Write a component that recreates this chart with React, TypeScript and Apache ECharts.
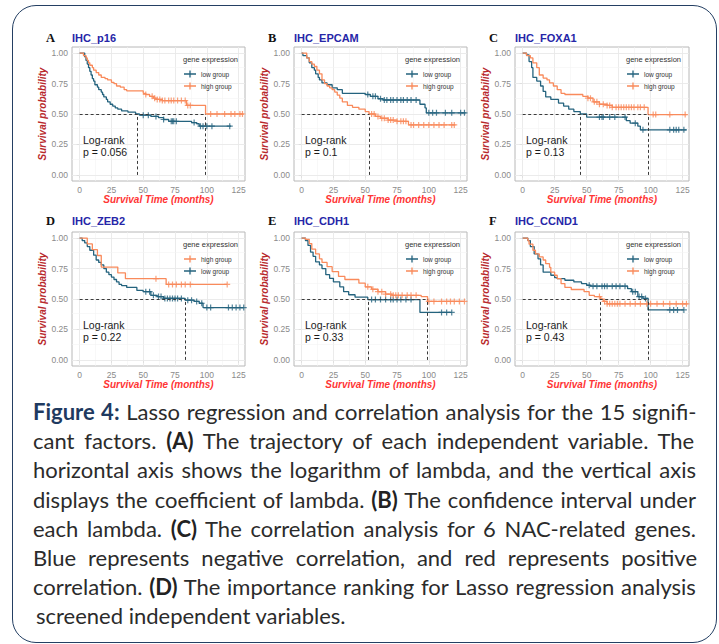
import React, { useEffect, useRef } from "react";
import * as echarts from "echarts";

// ---------------- data ----------------
const xTicks = [0, 25, 50, 75, 100, 125];
const xMinorGrid = [12.5, 37.5, 62.5, 87.5, 112.5];
const yTicks = [0, 0.25, 0.5, 0.75, 1];
const yMinorGrid = [0.125, 0.375, 0.625, 0.875];

const panelLetters = ["A", "B", "C", "D", "E", "F"];
const geneNames = ["IHC_p16", "IHC_EPCAM", "IHC_FOXA1", "IHC_ZEB2", "IHC_CDH1", "IHC_CCND1"];
const pValues = ["0.056", "0.1", "0.13", "0.22", "0.33", "0.43"];
const legendOrders = [
  ["low group", "high group"],
  ["low group", "high group"],
  ["low group", "high group"],
  ["high group", "low group"],
  ["low group", "high group"],
  ["low group", "high group"],
];

// Panel A  (IHC_p16)
const A_lowTimes = [0, 4, 5, 6, 7, 8, 9, 10, 11, 12, 14, 15, 17, 18, 19, 21, 22, 24, 26, 28, 30, 33, 38, 44, 47, 56, 62, 66, 70, 88, 92, 94, 119];
const A_lowSurv = [1, 0.97, 0.94, 0.91, 0.88, 0.85, 0.82, 0.79, 0.77, 0.74, 0.72, 0.7, 0.68, 0.66, 0.64, 0.62, 0.6, 0.58, 0.565, 0.55, 0.54, 0.525, 0.515, 0.5, 0.49, 0.48, 0.47, 0.455, 0.44, 0.43, 0.42, 0.4, 0.4];
const A_lowCensor = [50, 54, 60, 66, 72, 73, 74, 76, 90, 95, 97, 100, 104, 118];
const A_highTimes = [0, 3, 5, 6, 7, 8, 10, 11, 13, 15, 17, 20, 22, 25, 27, 29, 32, 35, 37, 50, 52, 55, 58, 60, 65, 84, 99, 129];
const A_highSurv = [1, 0.98, 0.96, 0.94, 0.92, 0.9, 0.88, 0.86, 0.84, 0.82, 0.8, 0.79, 0.78, 0.76, 0.75, 0.73, 0.72, 0.7, 0.69, 0.67, 0.66, 0.645, 0.63, 0.62, 0.61, 0.57, 0.5, 0.5];
const A_highCensor = [52, 57, 59, 61, 63, 65, 67, 70, 72, 74, 77, 80, 83, 85, 87, 103, 108, 114, 119, 122, 126, 128];
const A_medians = [45, 99];

// Panel B  (IHC_EPCAM)
const B_lowTimes = [0, 1, 4, 6, 8, 10, 11, 13, 14, 16, 20, 24, 28, 32, 50, 54, 60, 64, 93, 97, 98, 129];
const B_lowSurv = [1, 0.98, 0.96, 0.92, 0.88, 0.86, 0.83, 0.8, 0.78, 0.755, 0.74, 0.715, 0.7, 0.67, 0.66, 0.645, 0.625, 0.615, 0.58, 0.55, 0.51, 0.51];
const B_lowCensor = [52, 56, 58, 62, 65, 67, 70, 72, 75, 78, 80, 83, 86, 90, 100, 103, 106, 113, 118, 125, 128];
const B_highTimes = [0, 4, 6, 8, 10, 12, 14, 16, 18, 20, 22, 24, 26, 28, 30, 32, 36, 40, 45, 50, 53, 58, 62, 68, 75, 84, 121];
const B_highSurv = [1, 0.96, 0.93, 0.91, 0.89, 0.86, 0.83, 0.78, 0.75, 0.73, 0.715, 0.7, 0.68, 0.655, 0.63, 0.6, 0.57, 0.555, 0.54, 0.52, 0.5, 0.48, 0.465, 0.45, 0.44, 0.41, 0.41];
const B_highCensor = [55, 57, 60, 63, 65, 68, 70, 72, 75, 78, 80, 82, 86, 88, 92, 96, 100, 104, 108, 112, 118, 120];
const B_medians = [53];

// Panel C  (IHC_FOXA1)
const C_lowTimes = [0, 3, 5, 7, 8, 11, 14, 16, 18, 22, 28, 32, 36, 40, 45, 50, 81, 84, 90, 92, 128];
const C_lowSurv = [1, 0.985, 0.93, 0.88, 0.8, 0.77, 0.73, 0.685, 0.64, 0.62, 0.59, 0.565, 0.54, 0.52, 0.5, 0.475, 0.445, 0.425, 0.4, 0.37, 0.37];
const C_lowCensor = [60, 62, 63, 68, 72, 80, 88, 94, 115, 118, 120, 122, 126];
const C_highTimes = [0, 3, 6, 8, 11, 13, 16, 19, 21, 24, 27, 30, 33, 47, 51, 55, 60, 66, 70, 98, 128];
const C_highSurv = [1, 0.98, 0.96, 0.92, 0.88, 0.82, 0.795, 0.78, 0.755, 0.73, 0.7, 0.67, 0.66, 0.645, 0.63, 0.6, 0.58, 0.57, 0.555, 0.495, 0.495];
const C_highCensor = [51, 53, 56, 58, 60, 63, 66, 68, 70, 73, 75, 77, 79, 81, 83, 85, 87, 90, 92, 95, 102, 104, 115, 127];
const C_medians = [45, 98];

// Panel D  (IHC_ZEB2)
const D_lowTimes = [0, 2, 4, 6, 8, 11, 13, 15, 17, 19, 21, 23, 25, 27, 29, 31, 33, 37, 45, 50, 56, 61, 66, 83, 90, 94, 97, 129];
const D_lowSurv = [1, 0.98, 0.96, 0.93, 0.9, 0.86, 0.82, 0.8, 0.78, 0.75, 0.72, 0.7, 0.68, 0.66, 0.64, 0.62, 0.61, 0.595, 0.57, 0.56, 0.53, 0.52, 0.505, 0.49, 0.48, 0.465, 0.43, 0.43];
const D_lowCensor = [52, 55, 58, 62, 64, 67, 69, 71, 73, 75, 77, 80, 85, 88, 92, 96, 100, 103, 117, 120, 123, 126, 129];
const D_highTimes = [0, 6, 10, 14, 17, 30, 36, 68, 116];
const D_highSurv = [1, 0.952, 0.905, 0.857, 0.762, 0.714, 0.667, 0.62, 0.62];
const D_highCensor = [60, 70, 73, 76, 80, 83, 87, 116];
const D_medians = [83];

// Panel E  (IHC_CDH1)
const E_lowTimes = [0, 3, 5, 7, 9, 11, 14, 16, 19, 22, 25, 30, 33, 37, 42, 52, 93, 118];
const E_lowSurv = [1, 0.98, 0.94, 0.885, 0.85, 0.805, 0.78, 0.75, 0.7, 0.67, 0.64, 0.6, 0.56, 0.535, 0.515, 0.495, 0.39, 0.39];
const E_lowCensor = [55, 58, 62, 66, 70, 72, 75, 78, 82, 86, 110, 114, 118];
const E_highTimes = [0, 3, 6, 8, 11, 14, 16, 20, 24, 29, 34, 45, 50, 55, 60, 66, 71, 94, 99, 128];
const E_highSurv = [1, 0.99, 0.955, 0.91, 0.87, 0.83, 0.8, 0.765, 0.725, 0.685, 0.66, 0.63, 0.6, 0.58, 0.56, 0.54, 0.53, 0.52, 0.48, 0.48];
const E_highCensor = [52, 56, 60, 63, 66, 70, 72, 74, 76, 79, 83, 86, 90, 100, 104, 110, 114, 117, 120, 124, 128];
const E_medians = [52, 99];

// Panel F  (IHC_CCND1)
const F_lowTimes = [0, 4, 6, 9, 12, 14, 16, 22, 25, 27, 33, 40, 46, 50, 53, 82, 85, 90, 94, 98, 126];
const F_lowSurv = [1, 0.98, 0.93, 0.87, 0.83, 0.78, 0.72, 0.695, 0.675, 0.667, 0.654, 0.64, 0.627, 0.613, 0.605, 0.585, 0.56, 0.52, 0.505, 0.41, 0.41];
const F_lowCensor = [52, 55, 58, 62, 64, 66, 70, 73, 76, 80, 86, 88, 91, 93, 96, 115, 118, 121, 126];
const F_highTimes = [0, 4, 5, 8, 10, 13, 16, 18, 21, 22, 25, 27, 30, 33, 38, 48, 52, 56, 61, 63, 66, 129];
const F_highSurv = [1, 0.98, 0.95, 0.9, 0.87, 0.845, 0.82, 0.79, 0.76, 0.72, 0.695, 0.667, 0.627, 0.595, 0.578, 0.56, 0.53, 0.52, 0.5, 0.48, 0.46, 0.46];
const F_highCensor = [60, 64, 66, 68, 70, 72, 74, 76, 80, 84, 88, 92, 97, 100, 105, 110, 115, 120, 125, 128];
const F_medians = [61, 98];

// caption
type Seg = { t: string; b?: "fig" | "bold" };
const captionLines: Seg[][] = [
  [{ t: "Figure 4:", b: "fig" }, { t: " Lasso regression and correlation analysis for the 15 signifi-" }],
  [{ t: "cant factors. " }, { t: "(A)", b: "bold" }, { t: " The trajectory of each independent variable. The" }],
  [{ t: "horizontal axis shows the logarithm of lambda, and the vertical axis" }],
  [{ t: "displays the coefficient of lambda. " }, { t: "(B)", b: "bold" }, { t: " The confidence interval under" }],
  [{ t: "each lambda. " }, { t: "(C)", b: "bold" }, { t: " The correlation analysis for 6 NAC-related genes." }],
  [{ t: "Blue represents negative correlation, and red represents positive" }],
  [{ t: "correlation. " }, { t: "(D)", b: "bold" }, { t: " The importance ranking for Lasso regression analysis" }],
  [{ t: "screened independent variables." }],
];

// ---------------- styling / layout ----------------
const TEAL = "#24637e";
const ORANGE = "#f98a5b";
const FONT = "'Liberation Sans', Arial, sans-serif";
const colLeft = [72, 294, 515];
const colWidth = [173, 173, 174];
const rowTop = [47, 232];
const rowHeight = 134;
const PLUS = "path://M2.4,0H3.6V2.4H6V3.6H3.6V6H2.4V3.6H0V2.4H2.4Z";
const LEGEND_ICON = "path://M0,2.85H5.35V0H6.65V2.85H12V4.15H6.65V7H5.35V4.15H0Z";

const panels = [
  { low: [A_lowTimes, A_lowSurv, A_lowCensor], high: [A_highTimes, A_highSurv, A_highCensor], medians: A_medians },
  { low: [B_lowTimes, B_lowSurv, B_lowCensor], high: [B_highTimes, B_highSurv, B_highCensor], medians: B_medians },
  { low: [C_lowTimes, C_lowSurv, C_lowCensor], high: [C_highTimes, C_highSurv, C_highCensor], medians: C_medians },
  { low: [D_lowTimes, D_lowSurv, D_lowCensor], high: [D_highTimes, D_highSurv, D_highCensor], medians: D_medians },
  { low: [E_lowTimes, E_lowSurv, E_lowCensor], high: [E_highTimes, E_highSurv, E_highCensor], medians: E_medians },
  { low: [F_lowTimes, F_lowSurv, F_lowCensor], high: [F_highTimes, F_highSurv, F_highCensor], medians: F_medians },
];

function stepAt(times: number[], surv: number[], t: number) {
  let v = surv[0];
  for (let i = 0; i < times.length; i++) if (times[i] <= t) v = surv[i];
  return v;
}

function buildOption() {
  const grid: any[] = [], xAxis: any[] = [], yAxis: any[] = [], series: any[] = [], legend: any[] = [], graphic: any[] = [];
  panels.forEach((p, i) => {
    const r = Math.floor(i / 3), c = i % 3;
    const left = colLeft[c], top = rowTop[r];
    grid.push({ left, top, width: colWidth[c], height: rowHeight, show: true, borderColor: "#b8b8b8", borderWidth: 1, backgroundColor: "#fff" });
    xAxis.push({
      type: "value", gridIndex: i, min: -6, max: 130,
      axisLine: { show: false }, splitLine: { show: false },
      axisTick: { show: true, customValues: xTicks, length: 3, lineStyle: { color: "#8c8c8c", width: 1 } },
      axisLabel: { customValues: xTicks, fontSize: 8.5, color: "#8a8a8a", margin: 4, fontFamily: FONT },
      name: "Survival Time (months)", nameLocation: "middle", nameGap: 12,
      nameTextStyle: { color: "#ff3535", fontWeight: "bold", fontStyle: "italic", fontSize: 10, fontFamily: FONT },
    });
    yAxis.push({
      type: "value", gridIndex: i, min: -0.05, max: 1.05,
      axisLine: { show: false }, splitLine: { show: false },
      axisTick: { show: true, customValues: yTicks, length: 3, lineStyle: { color: "#8c8c8c", width: 1 } },
      axisLabel: { customValues: yTicks, fontSize: 8.5, color: "#8a8a8a", margin: 4, fontFamily: FONT, formatter: (v: number) => v.toFixed(2) },
      name: "Survival probability", nameLocation: "middle", nameGap: 24,
      nameTextStyle: { color: "#b8282c", fontWeight: "bold", fontStyle: "italic", fontSize: 10, fontFamily: FONT },
    });
    const gridLines = [
      ...xMinorGrid.map((v) => ({ xAxis: v, lineStyle: { color: "#f3f3f3", width: 0.6, type: "solid" } })),
      ...xTicks.map((v) => ({ xAxis: v, lineStyle: { color: "#e9e9e9", width: 0.9, type: "solid" } })),
      ...yMinorGrid.map((v) => ({ yAxis: v, lineStyle: { color: "#f3f3f3", width: 0.6, type: "solid" } })),
      ...yTicks.map((v) => ({ yAxis: v, lineStyle: { color: "#e9e9e9", width: 0.9, type: "solid" } })),
    ];
    const maxMed = Math.max(...p.medians);
    const medLines: any[] = [
      [{ coord: [0, 0.5] }, { coord: [maxMed, 0.5] }],
      ...p.medians.map((m) => [{ coord: [m, 0] }, { coord: [m, 0.5] }]),
    ];
    const groups: [string, any[], string][] = [["low group", p.low, TEAL], ["high group", p.high, ORANGE]];
    groups.forEach(([name, g, color], k) => {
      const [times, surv, cens] = g as number[][];
      series.push({
        type: "line", name, xAxisIndex: i, yAxisIndex: i, step: "end", showSymbol: false, symbol: "none",
        data: times.map((t, j) => [t, surv[j]]), z: 3,
        lineStyle: { color, width: 1.3 }, itemStyle: { color }, silent: true,
        markLine: k === 0
          ? { silent: true, symbol: "none", z: 1, label: { show: false }, data: gridLines }
          : { silent: true, symbol: "none", z: 5, label: { show: false }, lineStyle: { type: [3, 2.5], color: "#3a3a3a", width: 1 }, data: medLines },
      });
      series.push({
        type: "scatter", name, xAxisIndex: i, yAxisIndex: i, symbol: PLUS, symbolSize: 6, z: 4, silent: true,
        itemStyle: { color },
        data: cens.map((t) => [t, stepAt(times, surv, t)]),
      });
    });
    legend.push({
      left: left + 112, top: top + 23.5, orient: "vertical", itemGap: 5, itemWidth: 12, itemHeight: 7, padding: 0,
      selectedMode: false,
      data: legendOrders[i].map((n) => ({ name: n, icon: LEGEND_ICON })),
      textStyle: { fontSize: 6.5, color: "#333", fontFamily: FONT },
    });
    const titleY = r === 0 ? 38 : 221;
    graphic.push(
      { type: "text", z: 20, x: left - 26, y: titleY, style: { text: panelLetters[i], fontSize: 12.5, fontWeight: "bold", fontFamily: "'Liberation Serif', serif", fill: "#111", verticalAlign: "middle" } },
      { type: "text", z: 20, x: left, y: titleY, style: { text: geneNames[i], fontSize: 11, fontWeight: "bold", fontFamily: FONT, fill: "#2626a8", verticalAlign: "middle" } },
      { type: "text", z: 20, x: left + 111, y: top + 12, style: { text: "gene expression", fontSize: 7.5, fontFamily: FONT, fill: "#333", verticalAlign: "middle" } },
      { type: "text", z: 20, x: left + 11, y: top + 93, style: { text: "Log-rank", fontSize: 10.5, fontFamily: FONT, fill: "#1a1a1a", verticalAlign: "middle" } },
      { type: "text", z: 20, x: left + 11, y: top + 105, style: { text: "p = " + pValues[i], fontSize: 10.5, fontFamily: FONT, fill: "#1a1a1a", verticalAlign: "middle" } },
    );
  });
  return { animation: false, grid, xAxis, yAxis, series, legend, graphic };
}

const CAP_FONT = "Lato";
const CAP_SIZE = 22;
const CAP_LEFT = 33;
const CAP_WIDTH = 664;

function lineWordSpacing(segs: Seg[]) {
  const ctx = document.createElement("canvas").getContext("2d");
  if (!ctx) return 0;
  let w = 0, spaces = 0;
  for (const s of segs) {
    ctx.font = `${s.b ? "bold " : ""}${CAP_SIZE}px ${CAP_FONT}`;
    w += ctx.measureText(s.t).width;
    spaces += (s.t.match(/ /g) || []).length;
  }
  return spaces ? (CAP_WIDTH - w) / spaces : 0;
}

export default function App() {
  const ref = useRef<HTMLDivElement>(null);
  useEffect(() => {
    const chart = echarts.init(ref.current!, undefined, { renderer: "svg" });
    chart.setOption(buildOption() as any);
    return () => chart.dispose();
  }, []);
  return (
    <div style={{ position: "fixed", left: 0, top: 0, width: 719, height: 644, background: "#fff", overflow: "hidden" }}>
      <div style={{ position: "absolute", left: 12, top: 5, width: 705, height: 638, border: "1.3px solid #243f63", borderRadius: 24, boxSizing: "border-box" }} />
      <div ref={ref} style={{ position: "absolute", left: 0, top: 0, width: 719, height: 400 }} />
      {captionLines.map((segs, i) => {
        const last = i === captionLines.length - 1;
        const ws = last ? 0 : lineWordSpacing(segs);
        return (
          <div key={i} style={{
            position: "absolute", left: last ? 36 : CAP_LEFT, top: 397 + i * 29.2, height: 29, lineHeight: "29px",
            whiteSpace: "nowrap", fontFamily: CAP_FONT, fontSize: CAP_SIZE, color: "#2b2b2b", wordSpacing: ws,
          }}>
            {segs.map((s, k) => (
              <span key={k} style={s.b ? { fontWeight: "bold", color: s.b === "fig" ? "#1f3a60" : "#222" } : undefined}>{s.t}</span>
            ))}
          </div>
        );
      })}
    </div>
  );
}
